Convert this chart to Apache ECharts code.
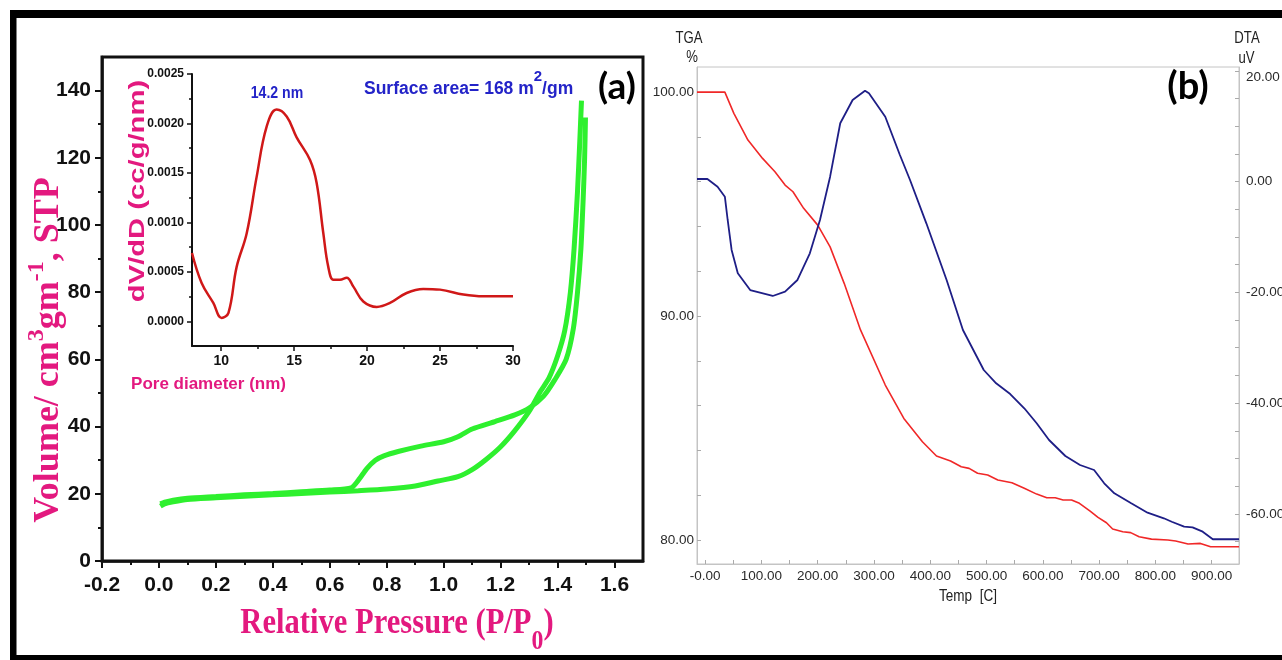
<!DOCTYPE html>
<html><head><meta charset="utf-8">
<script src="https://cdn.jsdelivr.net/npm/echarts@6/dist/echarts.min.js"></script>
<style>html,body{margin:0;padding:0;background:#fff}#c{width:1282px;height:660px}</style>
</head><body><div id="c"></div>
<script>
// ---------- (a) N2 isotherm ----------
const isoAdsP = [0.005,0.02,0.05,0.1,0.2,0.3,0.4,0.5,0.6,0.7,0.8,0.9,0.98,1.05,1.1,1.15,1.2,1.25,1.3,1.34,1.37,1.40,1.425,1.445,1.458,1.47,1.478,1.484];
const isoAdsV = [16.3,17.0,17.6,18.3,18.8,19.3,19.7,20.1,20.5,20.9,21.4,22.3,23.8,25.1,27.2,30.3,34.0,38.8,44.5,50.5,54.5,61,68.5,80,93,110,125,137];
const isoDesP = [1.498,1.495,1.49,1.482,1.47,1.455,1.43,1.39,1.35,1.3,1.25,1.18,1.1,1.05,1.0,0.92,0.84,0.79,0.76,0.73,0.70,0.675,0.6,0.5,0.4,0.3,0.2,0.1,0.05,0.02,0.005];
const isoDesV = [132,120,108,93,80,69,60,53.9,49,45.5,43.5,41.5,39.3,37,35.5,34.2,32.6,31.3,30,27.5,24,21.8,21.1,20.6,20.1,19.7,19.2,18.7,18.1,17.5,17.0];
// ---------- (a) inset pore size distribution ----------
const poreD  = [8.0,8.66,9.46,10.03,10.5,11.06,11.75,12.43,13.12,13.8,14.49,15.17,16.09,16.54,17.0,17.34,17.69,18.14,18.6,19.06,19.74,20.66,21.57,22.71,23.85,25.0,26.6,27.97,30.0];
const poreDV = [0.00069,0.000387,0.000185,0.000034,0.000085,0.00055,0.00089,0.00146,0.00197,0.00214,0.00207,0.00186,0.00163,0.0014,0.00089,0.00055,0.00042,0.00042,0.00044,0.00035,0.0002,0.000145,0.000185,0.000286,0.000327,0.00032,0.00027,0.000252,0.000252];
// ---------- (b) TGA / DTA ----------
const tgaT = [-14.5,35,51,76,102,124,142,156,175,200,222,247,276,320,353,386,411,436,455,469,484,502,520,545,567,589,607,622,636,651,665,684,698,713,724,742,756,771,793,822,836,858,880,898,948.5];
const tgaW = [100,100,99.05,97.86,97.04,96.44,95.85,95.55,94.81,94.06,93.09,91.46,89.38,86.92,85.43,84.39,83.75,83.53,83.27,83.2,82.98,82.9,82.68,82.56,82.31,82.05,81.89,81.89,81.79,81.79,81.64,81.29,81.01,80.77,80.49,80.37,80.33,80.15,80.04,80.0,79.96,79.82,79.85,79.7,79.7];
const dtaT = [-14.5,4,22,35,40,47,58,80,120,142,164,186,204,222,240,262,284,291,320,346,364,393,429,458,495,517,542,567,589,611,640,666,691,709,727,757,786,815,829,851,866,884,902,948.5];
const dtaV = [0.49,0.49,-0.9,-2.71,-6.92,-12.34,-16.55,-19.57,-20.65,-19.87,-17.76,-12.94,-6.92,0.9,10.55,14.76,16.44,15.97,11.74,4.82,0.31,-7.52,-17.76,-26.79,-34.02,-36.42,-38.36,-40.94,-43.65,-46.67,-49.56,-51.18,-52.09,-54.49,-56.3,-58.1,-59.8,-60.81,-61.43,-62.33,-62.44,-63.23,-64.6,-64.6];
// ---------- tick values ----------
const mainXLabels = [-0.2,0,0.2,0.4,0.6,0.8,1.0,1.2,1.4,1.6];
const mainXMinor  = [-0.1,0.1,0.3,0.5,0.7,0.9,1.1,1.3,1.5];
const mainYLabels = [0,20,40,60,80,100,120,140];
const mainYMinor  = [10,30,50,70,90,110,130];
const insetXLabels = [10,15,20,25,30];
const insetXMinor  = [12.5,17.5,22.5,27.5];
const insetYLabels = [0,0.0005,0.001,0.0015,0.002,0.0025];
const insetYMinor  = [0.00025,0.00075,0.00125,0.00175,0.00225];
const bXLabels = [0,100,200,300,400,500,600,700,800,900];
const bXTicks  = [0,50,100,150,200,250,300,350,400,450,500,550,600,650,700,750,800,850,900];
const tgaLabels = [80,90,100];
const tgaTicks  = [80,82,84,86,88,90,92,94,96,98,100];
const dtaLabels = [-60,-40,-20,0,20];
const dtaTicks  = [-65,-60,-55,-50,-45,-40,-35,-30,-25,-20,-15,-10,-5,0,5,10,15,20];

const MAG = '#e3197f', BLUE = '#2323c8', GREEN = '#2ef02e';
const SANS = '"Liberation Sans", Arial, sans-serif';
const SERIF = '"Liberation Serif", "Times New Roman", serif';
const zip = (a, b) => a.map((v, i) => [v, b[i]]);
const noSplit = {show: false};
const BTXT = {fontSize: 13.5, fontFamily: SANS, color: '#2a2a2a'};

const chart = echarts.init(document.getElementById('c'), null, {renderer: 'canvas'});
chart.setOption({
  animation: false,
  backgroundColor: '#fff',
  grid: [
    {left: 102, top: 57, width: 541, height: 504, show: true, borderColor: '#111', borderWidth: 3, outerBoundsMode: 'none'},
    {left: 192, top: 74, width: 321, height: 272, outerBoundsMode: 'none'},
    {left: 697, top: 67, width: 542, height: 497, show: true, borderColor: '#c4c4c4', borderWidth: 1, outerBoundsMode: 'none'}
  ],
  xAxis: [
    {type: 'value', gridIndex: 0, min: -0.2, max: 1.7, position: 'bottom',
     axisLine: {onZero: false, lineStyle: {color: '#111', width: 2.5}},
     axisTick: {customValues: mainXLabels, length: 7, lineStyle: {color: '#111', width: 2}},
     axisLabel: {customValues: mainXLabels, formatter: v => v.toFixed(1), margin: 14, color: '#111', fontSize: 21, fontWeight: 'bold', fontFamily: SANS},
     splitLine: noSplit},
    {type: 'value', gridIndex: 0, min: -0.2, max: 1.7, position: 'bottom',
     axisLine: {show: false, onZero: false},
     axisTick: {customValues: mainXMinor, length: 4, lineStyle: {color: '#111', width: 2}},
     axisLabel: {show: false}, splitLine: noSplit},
    {type: 'value', gridIndex: 1, min: 8, max: 30, position: 'bottom',
     axisLine: {onZero: false, lineStyle: {color: '#111', width: 2}},
     axisTick: {customValues: insetXLabels, length: 5, lineStyle: {color: '#111', width: 1.5}},
     axisLabel: {customValues: insetXLabels, margin: 8, color: '#111', fontSize: 14, fontWeight: 'bold', fontFamily: SANS},
     splitLine: noSplit},
    {type: 'value', gridIndex: 1, min: 8, max: 30, position: 'bottom',
     axisLine: {show: false, onZero: false},
     axisTick: {customValues: insetXMinor, length: 3, lineStyle: {color: '#111', width: 1.5}},
     axisLabel: {show: false}, splitLine: noSplit},
    {type: 'value', gridIndex: 2, min: -14.5, max: 948.5, position: 'bottom',
     axisLine: {onZero: false, lineStyle: {color: '#c4c4c4', width: 1}},
     axisTick: {customValues: bXTicks, inside: true, length: 4, lineStyle: {color: '#aaa'}},
     axisLabel: Object.assign({customValues: bXLabels, formatter: v => v === 0 ? '-0.00' : v.toFixed(2), margin: 5}, BTXT),
     splitLine: noSplit}
  ],
  yAxis: [
    {type: 'value', gridIndex: 0, min: 0, max: 150, position: 'left',
     axisLine: {onZero: false, lineStyle: {color: '#111', width: 2.5}},
     axisTick: {customValues: mainYLabels, length: 7, lineStyle: {color: '#111', width: 2}},
     axisLabel: {customValues: mainYLabels, margin: 11, color: '#111', fontSize: 21, fontWeight: 'bold', fontFamily: SANS},
     splitLine: noSplit},
    {type: 'value', gridIndex: 0, min: 0, max: 150, position: 'left',
     axisLine: {show: false, onZero: false},
     axisTick: {customValues: mainYMinor, length: 4, lineStyle: {color: '#111', width: 2}},
     axisLabel: {show: false}, splitLine: noSplit},
    {type: 'value', gridIndex: 1, min: -0.00025, max: 0.0025, position: 'left',
     axisLine: {onZero: false, lineStyle: {color: '#111', width: 2}},
     axisTick: {customValues: insetYLabels, length: 5, lineStyle: {color: '#111', width: 1.5}},
     axisLabel: {customValues: insetYLabels, formatter: v => v.toFixed(4), margin: 8, color: '#111', fontSize: 12, fontWeight: 'bold', fontFamily: SANS},
     splitLine: noSplit},
    {type: 'value', gridIndex: 1, min: -0.00025, max: 0.0025, position: 'left',
     axisLine: {show: false, onZero: false},
     axisTick: {customValues: insetYMinor, length: 3, lineStyle: {color: '#111', width: 1.5}},
     axisLabel: {show: false}, splitLine: noSplit},
    {type: 'value', gridIndex: 2, min: 78.93, max: 101.12, position: 'left',
     axisLine: {onZero: false, lineStyle: {color: '#c4c4c4', width: 1}},
     axisTick: {customValues: tgaTicks, inside: true, length: 4, lineStyle: {color: '#aaa'}},
     axisLabel: Object.assign({customValues: tgaLabels, formatter: v => v.toFixed(2), margin: 3}, BTXT),
     splitLine: noSplit},
    {type: 'value', gridIndex: 2, min: -69.07, max: 20.72, position: 'right',
     axisLine: {onZero: false, lineStyle: {color: '#c4c4c4', width: 1}},
     axisTick: {customValues: dtaTicks, inside: true, length: 4, lineStyle: {color: '#aaa'}},
     axisLabel: Object.assign({customValues: dtaLabels, formatter: v => v === 20 ? '{t|20.00}' : v.toFixed(2), margin: 7,
       rich: {t: Object.assign({padding: [13, 0, 0, 0]}, BTXT)}}, BTXT),
     splitLine: noSplit}
  ],
  series: [
    {type: 'line', xAxisIndex: 0, yAxisIndex: 0, data: zip(isoAdsP, isoAdsV), symbol: 'none', smooth: 0.25, lineStyle: {color: GREEN, width: 5}},
    {type: 'line', xAxisIndex: 0, yAxisIndex: 0, data: zip(isoDesP, isoDesV), symbol: 'none', smooth: 0.25, lineStyle: {color: GREEN, width: 5}},
    {type: 'line', xAxisIndex: 2, yAxisIndex: 2, data: zip(poreD, poreDV), symbol: 'none', smooth: 0.4, lineStyle: {color: '#d01818', width: 2.5}},
    {type: 'line', xAxisIndex: 4, yAxisIndex: 4, data: zip(tgaT, tgaW), symbol: 'none', lineStyle: {color: '#f02828', width: 1.6}},
    {type: 'line', xAxisIndex: 4, yAxisIndex: 5, data: zip(dtaT, dtaV), symbol: 'none', lineStyle: {color: '#1e1e86', width: 1.8}}
  ],
  graphic: [
    {type: 'rect', z: 100, shape: {x: 10, y: 10, width: 1272, height: 8}, style: {fill: '#000'}},
    {type: 'rect', z: 100, shape: {x: 10, y: 10, width: 6.5, height: 650}, style: {fill: '#000'}},
    {type: 'rect', z: 100, shape: {x: 10, y: 655, width: 1272, height: 5}, style: {fill: '#000'}},
    // (a) y title
    {type: 'text', z: 50, x: 47, y: 350, rotation: Math.PI / 2,
     style: {text: '{m|Volume/ cm}{s|3}{m|gm}{s|-1}{m|, STP}', align: 'center', verticalAlign: 'middle',
       rich: {m: {fontSize: 36, fontFamily: SERIF, fontWeight: 'bold', fill: MAG, lineHeight: 40, verticalAlign: 'bottom'},
              s: {fontSize: 24, fontFamily: SERIF, fontWeight: 'bold', fill: MAG, lineHeight: 24, padding: [0, 0, 18, 0], verticalAlign: 'bottom'}}}},
    // (a) x title
    {type: 'text', z: 50, x: 397, y: 626, scaleX: 0.85,
     style: {text: '{m|Relative Pressure (P/P}{s|0}{m|)}', align: 'center', verticalAlign: 'middle',
       rich: {m: {fontSize: 36, fontFamily: SERIF, fontWeight: 'bold', fill: MAG, lineHeight: 40, verticalAlign: 'top'},
              s: {fontSize: 28, fontFamily: SERIF, fontWeight: 'bold', fill: MAG, lineHeight: 28, padding: [22, 0, 0, 0], verticalAlign: 'top'}}}},
    // inset titles
    {type: 'text', z: 50, x: 138, y: 191, rotation: Math.PI / 2, scaleX: 1.27, scaleY: 0.92,
     style: {text: 'dV/dD (cc/g/nm)', align: 'center', verticalAlign: 'middle', fontSize: 23, fontWeight: 'bold', fontFamily: SANS, fill: MAG}},
    {type: 'text', z: 50, x: 208.5, y: 384,
     style: {text: 'Pore diameter (nm)', align: 'center', verticalAlign: 'middle', fontSize: 17, fontWeight: 'bold', fontFamily: SANS, fill: MAG}},
    {type: 'text', z: 50, x: 277, y: 93, scaleX: 0.83,
     style: {text: '14.2 nm', align: 'center', verticalAlign: 'middle', fontSize: 17, fontWeight: 'bold', fontFamily: SANS, fill: BLUE}},
    {type: 'text', z: 50, x: 364, y: 88,
     style: {text: '{m|Surface area= 168 m}{s|2}{m|/gm}', align: 'left', verticalAlign: 'middle',
       rich: {m: {fontSize: 17.5, fontFamily: SANS, fontWeight: 'bold', fill: BLUE, lineHeight: 20, verticalAlign: 'bottom'},
              s: {fontSize: 15, fontFamily: SANS, fontWeight: 'bold', fill: BLUE, lineHeight: 15, padding: [0, 0, 14, 0], verticalAlign: 'bottom'}}}},
    {type: 'text', z: 50, x: 617, y: 87,
     style: {text: '(a)', align: 'center', verticalAlign: 'middle', fontSize: 37, fontWeight: 'bold', fontFamily: 'Lato, "Open Sans", sans-serif', fill: '#000'}},
    {type: 'text', z: 50, x: 1188, y: 87,
     style: {text: '(b)', align: 'center', verticalAlign: 'middle', fontSize: 38, fontWeight: 'bold', fontFamily: 'Lato, "Open Sans", sans-serif', fill: '#000'}},
    // (b) titles
    {type: 'text', z: 50, x: 689, y: 38.5, scaleX: 0.82, style: {text: 'TGA', align: 'center', verticalAlign: 'middle', fontSize: 16, fontFamily: SANS, fill: '#222'}},
    {type: 'text', z: 50, x: 692, y: 58, scaleX: 0.82, style: {text: '%', align: 'center', verticalAlign: 'middle', fontSize: 16, fontFamily: SANS, fill: '#222'}},
    {type: 'text', z: 50, x: 1247, y: 39, scaleX: 0.82, style: {text: 'DTA', align: 'center', verticalAlign: 'middle', fontSize: 16, fontFamily: SANS, fill: '#222'}},
    {type: 'text', z: 50, x: 1246.5, y: 59, scaleX: 0.82, style: {text: 'uV', align: 'center', verticalAlign: 'middle', fontSize: 16, fontFamily: SANS, fill: '#222'}},
    {type: 'text', z: 50, x: 968, y: 596, scaleX: 0.82, style: {text: 'Temp  [C]', align: 'center', verticalAlign: 'middle', fontSize: 16.5, fontFamily: SANS, fill: '#222'}}
  ]
});
</script></body></html>
